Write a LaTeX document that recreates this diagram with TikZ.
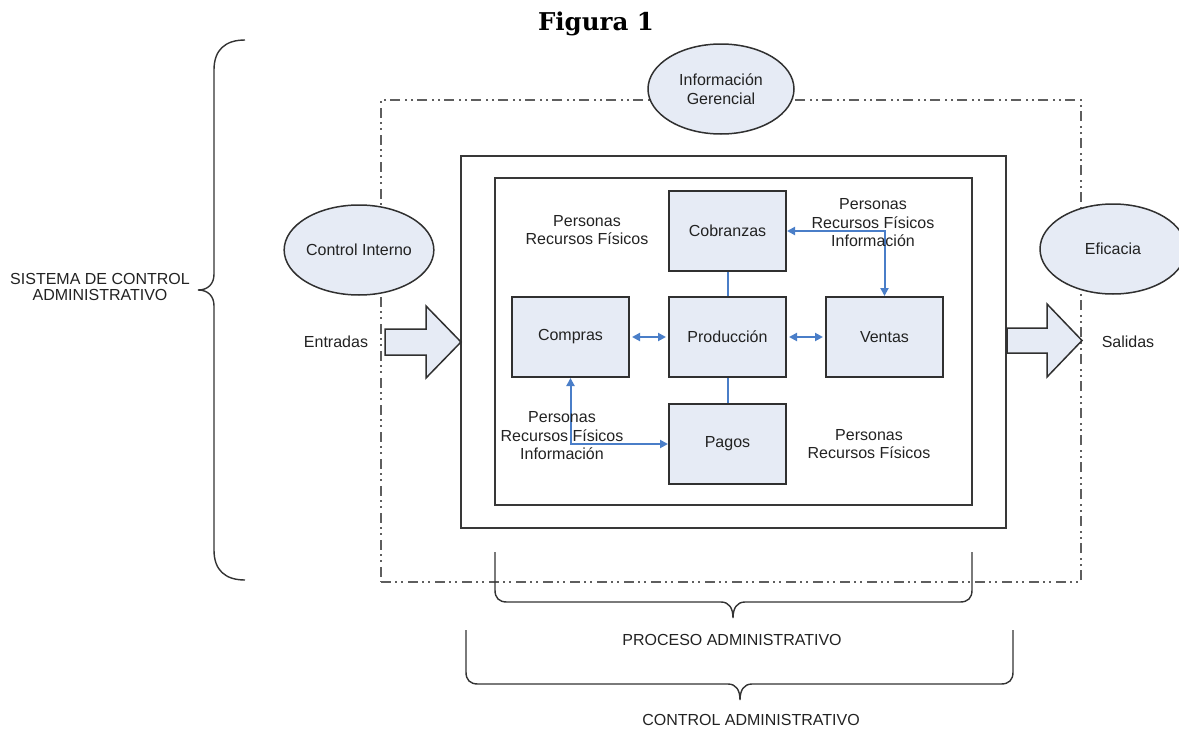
\documentclass[tikz,border=0pt]{standalone}
\usepackage{fontspec}
\setmainfont{Liberation Sans}
\newfontfamily\titlefont{DejaVu Serif}
\usetikzlibrary{arrows.meta,shapes.geometric}

\definecolor{boxfill}{HTML}{E6EBF5}
\definecolor{boxline}{HTML}{303030}
\definecolor{flow}{HTML}{4A7EC8}
\definecolor{framecol}{HTML}{383838}
\definecolor{dashcol}{HTML}{5E5E5E}
\definecolor{txt}{HTML}{222222}

\begin{document}
\begin{tikzpicture}[x=1pt,y=-1pt,
  every node/.style={font=\fontsize{16}{18.5}\selectfont, inner sep=0pt, text=txt},
  unit/.style={draw=boxline, fill=boxfill, line width=2pt,
    minimum width=117pt, minimum height=80pt},
  bubble/.style={ellipse, draw=boxline, fill=boxfill, line width=1.5pt,
    minimum width=146pt, minimum height=90pt, align=center},
  lbl/.style={align=center},
  flowline/.style={draw=flow, line width=2pt},
  flowarrow/.style={flowline, {Triangle[length=8pt,width=8pt]}-{Triangle[length=8pt,width=8pt]}},
  blockarrow/.style={draw=boxline, fill=boxfill, line width=1.5pt, line join=miter},
  brace/.style={draw=black!80, line width=1.4pt},
  systemframe/.style={draw=dashcol, line width=2pt,
    dash pattern=on 10pt off 4pt on 2pt off 4pt on 2pt off 5pt},
  solidframe/.style={draw=framecol, line width=2.2pt}
]
\useasboundingbox (0,0) rectangle (1179,731);
\clip (0,0) rectangle (1179,731);

% title
\node[font=\titlefont\bfseries\fontsize{24.5}{26}\selectfont, text=black, anchor=base]
  (title) at (596,30) {Figura 1};

% frames
\node[systemframe, minimum width=700pt, minimum height=482pt] (sysframe) at (731,341) {};
\node[solidframe, minimum width=545pt, minimum height=372pt] (outer) at (733.5,342) {};
\node[solidframe, line width=2pt, minimum width=477pt, minimum height=327pt] (inner) at (733.5,341.5) {};

% process units
\node[unit] (cob) at (727.5,231) {Cobranzas};
\node[unit] (com) at (570.5,337) {Compras};
\node[unit] (pro) at (727.5,337) {Producción};
\node[unit] (ven) at (884.5,337) {Ventas};
\node[unit] (pag) at (727.5,444) {Pagos};

% flows between units
\draw[flowline] (cob) -- (pro);
\draw[flowline] (pro) -- (pag);
\draw[flowarrow, shorten <=2pt, shorten >=2pt] (com) -- (pro);
\draw[flowarrow, shorten <=2pt, shorten >=2pt] (pro) -- (ven);
\draw[flowarrow] (cob.east) -| (ven.north);
\draw[flowarrow] (com.south) |- (pag.west);

% resource labels
\node[lbl] (resA) at (587,230) {Personas\\Recursos Físicos};
\node[lbl] (resB) at (873,223) {Personas\\Recursos Físicos\\Información};
\node[lbl] (resC) at (562,436) {Personas\\Recursos Físicos\\Información};
\node[lbl] (resD) at (869,444) {Personas\\Recursos Físicos};

% control ellipses
\node[bubble] (ig) at (721,89) {Información\\Gerencial};
\node[bubble] (ci) at (359,250) {Control Interno};
\node[bubble] (ef) at (1113,249) {Eficacia};

% input and output arrows
\draw[blockarrow] (385,329) -- (426,329) -- (426,306) -- (461,342)
  -- (426,378) -- (426,355) -- (385,355) -- cycle;
\draw[blockarrow] (1007,328) -- (1047,328) -- (1047,304) -- (1082,340.5)
  -- (1047,377) -- (1047,353) -- (1007,353) -- cycle;
\node (entr) at (336,342) {Entradas};
\node (sal) at (1128,342) {Salidas};

% left brace
\draw[brace] (245,40) .. controls (225,40) and (214,50) .. (214,70) -- (214,274)
  .. controls (214,284) and (208,290) .. (198,290)
  .. controls (208,290) and (214,296) .. (214,306) -- (214,550)
  .. controls (214,570) and (225,580) .. (245,580);
\node[lbl, font=\fontsize{16}{16.5}\selectfont] (sis) at (100,287) {SISTEMA DE CONTROL\\ADMINISTRATIVO};

% bottom braces
\draw[brace] (495,552) -- (495,590) .. controls (495,598) and (499,602) .. (507,602)
  -- (721,602) .. controls (729,602) and (733,608) .. (733,618)
  .. controls (733,608) and (737,602) .. (745,602) -- (960,602)
  .. controls (968,602) and (972,598) .. (972,590) -- (972,552);
\node (proc) at (732,640) {PROCESO ADMINISTRATIVO};

\draw[brace] (466,630) -- (466,672) .. controls (466,680) and (470,684) .. (478,684)
  -- (728,684) .. controls (736,684) and (740,690) .. (740,700)
  .. controls (740,690) and (744,684) .. (752,684) -- (1001,684)
  .. controls (1009,684) and (1013,680) .. (1013,672) -- (1013,630);
\node (ctrl) at (751,720) {CONTROL ADMINISTRATIVO};
\end{tikzpicture}
\end{document}
